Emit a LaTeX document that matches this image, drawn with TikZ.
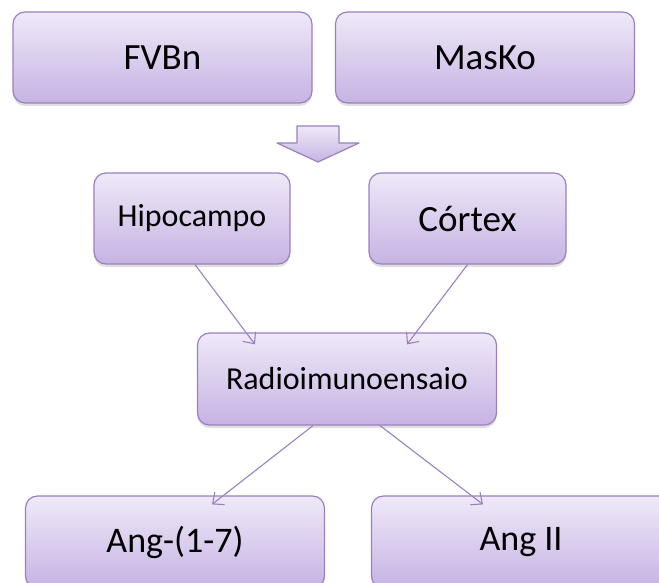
\documentclass[tikz,border=0pt]{standalone}
\usepackage{fontspec}
\setmainfont{Carlito}
\usetikzlibrary{arrows.meta,shadows}

\definecolor{boxtop}{RGB}{239,233,248}
\definecolor{boxbot}{RGB}{198,179,227}
\definecolor{boxline}{RGB}{155,128,192}

\tikzset{
  box/.style={rectangle, rounded corners=12pt, draw=boxline, line width=1.2pt,
    top color=boxtop, bottom color=boxbot, inner sep=0pt,
    minimum width=299pt, minimum height=91pt,
    drop shadow={shadow xshift=0pt, shadow yshift=-3pt, opacity=0.25}},
  link/.style={draw=boxline, line width=1.1pt, -{Straight Barb[length=9pt,width=16pt]}}
}

\begin{document}
\begin{tikzpicture}[x=1pt,y=-1pt]
  \useasboundingbox (0,0) rectangle (659,583);

  \begin{scope}[every node/.style={box}]
    \node[font=\fontsize{37}{42}\selectfont] (1) at (162.5,57.5) {FVBn};
    \node[font=\fontsize{37}{42}\selectfont] (2) at (485,57.5) {MasKo};
    \node[minimum width=196pt, font=\fontsize{32}{38}\selectfont] (3) at (192,218.5) {Hipocampo};
    \node[minimum width=197pt, font=\fontsize{37}{42}\selectfont] (4) at (467.5,218.5) {Córtex};
    \node[minimum height=92pt, font=\fontsize{32}{38}\selectfont] (5) at (347,379) {Radioimunoensaio};
    \node[minimum height=92pt, font=\fontsize{36}{42}\selectfont] (6) at (175,542) {Ang-(1-7)};
    \node[minimum height=92pt, font=\fontsize{36}{42}\selectfont] (7) at (521,542) {Ang II};
  \end{scope}

  % block arrow under the top row
  \draw[boxline, line width=1.2pt, top color=boxtop, bottom color=boxbot, line join=round]
    (297,126) -- (339,126) -- (339,143) -- (359,143) -- (318,162) -- (277,143) -- (297,143) -- cycle;

  \begin{scope}[every edge/.style={link}]
    \path ([xshift=3pt]3.south) edge ([xshift=-92pt,yshift=-12pt]5.north);
    \path (4.south) edge ([xshift=60pt,yshift=-12pt]5.north);
    \path ([xshift=-34pt]5.south) edge ([xshift=37pt,yshift=-9pt]6.north);
    \path ([xshift=33pt]5.south) edge ([xshift=-38pt,yshift=-9pt]7.north);
  \end{scope}

\end{tikzpicture}
\end{document}
